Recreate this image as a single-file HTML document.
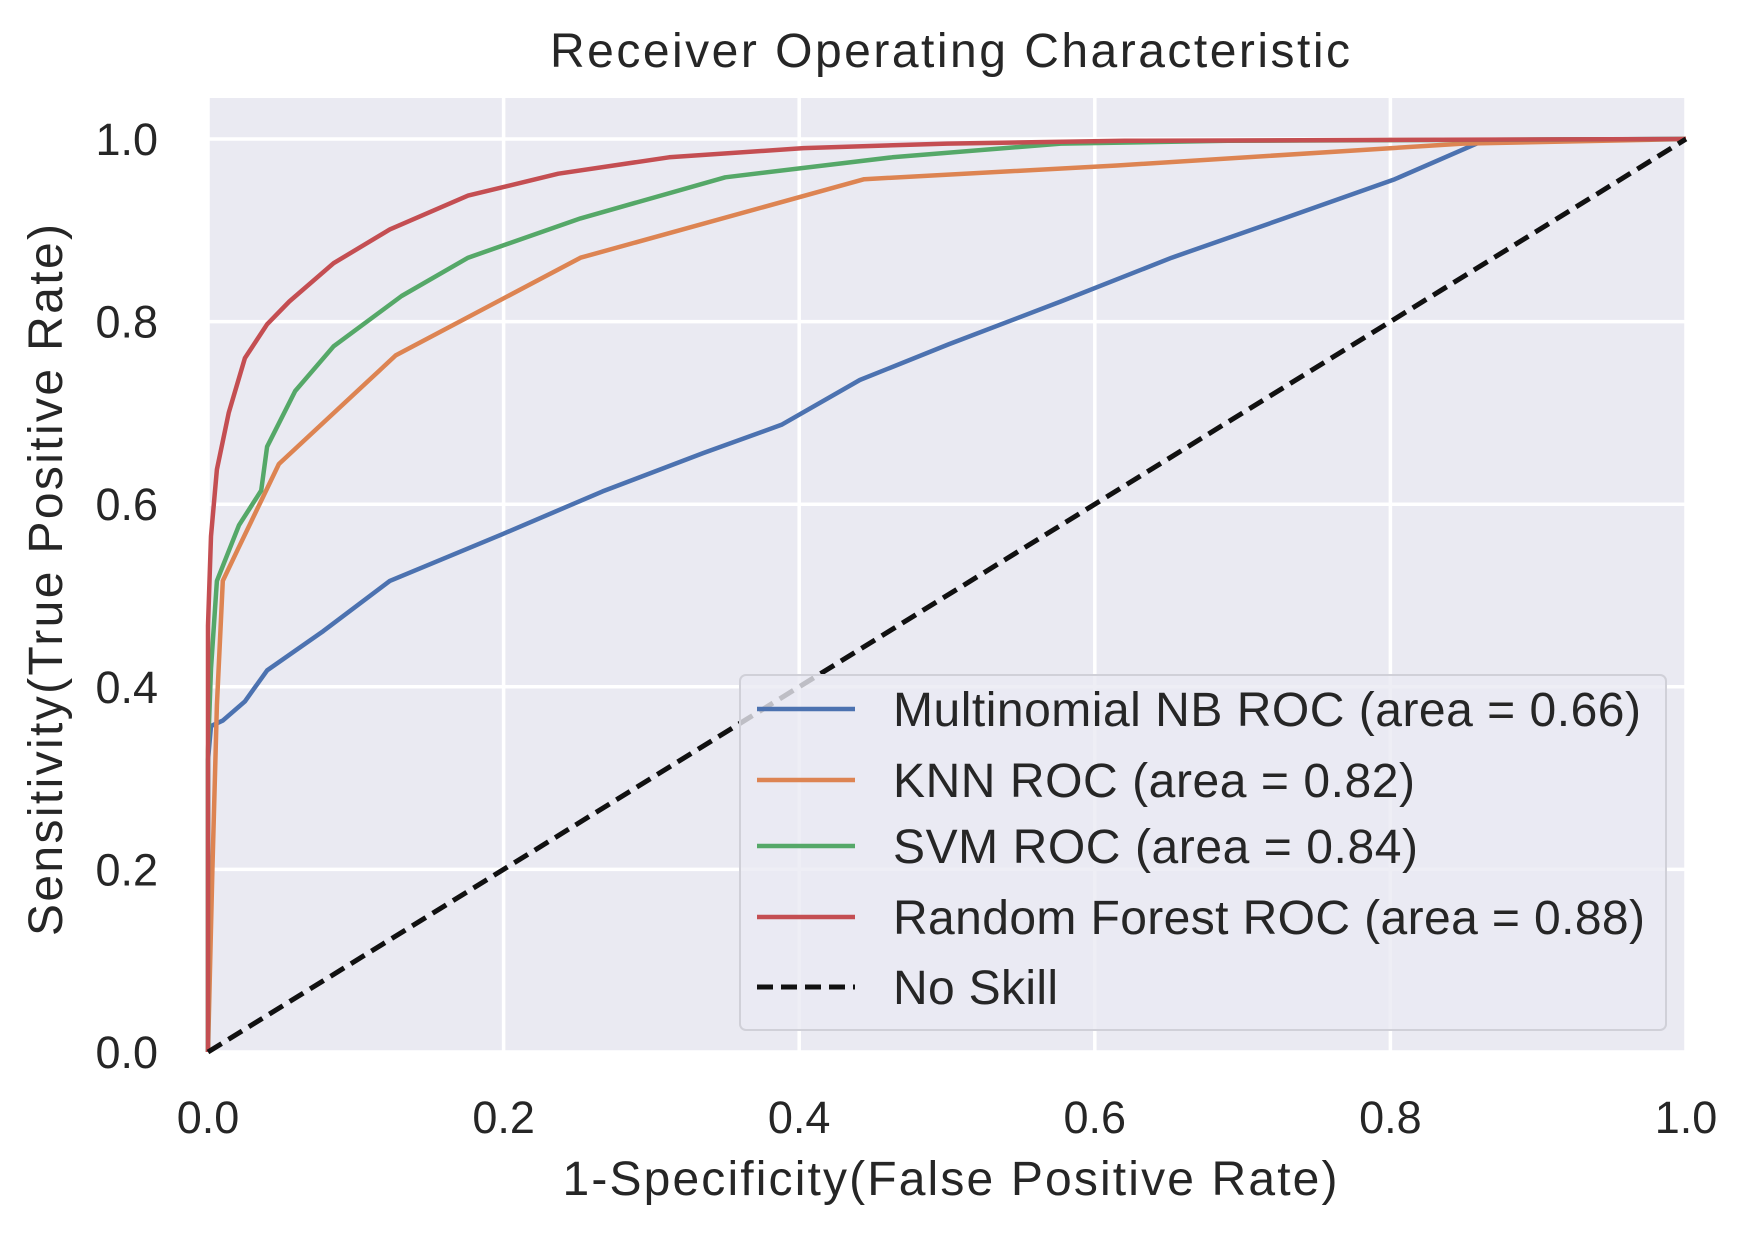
<!DOCTYPE html>
<html><head><meta charset="utf-8"><style>
html,body{margin:0;padding:0;background:#fff;}
svg{display:block;font-family:"Liberation Sans",Arial,sans-serif;}
</style></head><body>
<svg id="chart" width="1750" height="1236" viewBox="0 0 1750 1236" xmlns="http://www.w3.org/2000/svg">
<rect x="208" y="98" width="1479" height="954" fill="#eaeaf2"/>
<g id="grid"></g>
<g id="series"></g>
<g id="ticks"></g>
<text x="950" y="67" font-size="48" fill="#262626" text-anchor="middle" textLength="800">Receiver Operating Characteristic</text>
<text x="950" y="1195" font-size="48" fill="#262626" text-anchor="middle" textLength="775">1-Specificity(False Positive Rate)</text>
<text transform="translate(62,580) rotate(-90)" font-size="48" fill="#262626" text-anchor="middle" textLength="712">Sensitivity(True Positive Rate)</text>
<g id="legend">
<rect x="740" y="675" width="926" height="355" rx="6" fill="#eaeaf2" fill-opacity="0.8" stroke="#d0d0d8" stroke-width="2"/>
</g>
</svg>
<script>
const xTicks = [0, 0.2, 0.4, 0.6, 0.8, 1.0];
const yTicks = [0, 0.2, 0.4, 0.6, 0.8, 1.0];
const tickLabels = ["0.0","0.2","0.4","0.6","0.8","1.0"];
const seriesNames = ["Multinomial NB ROC (area = 0.66)","KNN ROC (area = 0.82)","SVM ROC (area = 0.84)","Random Forest ROC (area = 0.88)"];
const seriesColors = ["#4c72b0","#dd8452","#55a868","#c44e52"];
const nbX = [0,0,0.002,0.01,0.025,0.04,0.078,0.123,0.199,0.267,0.335,0.388,0.441,0.501,0.577,0.652,0.728,0.803,0.864,1];
const nbY = [0,0.32,0.357,0.363,0.384,0.418,0.461,0.516,0.567,0.614,0.656,0.687,0.736,0.775,0.822,0.870,0.913,0.956,0.999,1];
const knnX = [0,0.003,0.006,0.01,0.02,0.048,0.127,0.252,0.444,0.615,0.849,1];
const knnY = [0,0.2,0.38,0.516,0.55,0.644,0.763,0.870,0.956,0.971,0.995,1];
const svmX = [0,0,0.002,0.006,0.021,0.036,0.04,0.059,0.085,0.131,0.176,0.252,0.35,0.463,0.577,0.69,1];
const svmY = [0,0.33,0.42,0.516,0.577,0.615,0.663,0.724,0.773,0.828,0.870,0.913,0.958,0.980,0.995,0.998,1];
const rfX = [0,0,0.002,0.006,0.014,0.025,0.04,0.055,0.085,0.123,0.176,0.237,0.312,0.403,0.5,0.62,1];
const rfY = [0,0.467,0.565,0.638,0.70,0.76,0.797,0.822,0.864,0.901,0.938,0.962,0.980,0.990,0.995,0.998,1];
const skillX = [0,1];
const skillY = [0,1];

const X0=208,X1=1686,Y0=1052,Y1=139;
const sx=v=>X0+(X1-X0)*v;
const sy=v=>Y0-(Y0-Y1)*v;
const NS="http://www.w3.org/2000/svg";
function mk(tag,attrs,parent){const e=document.createElementNS(NS,tag);for(const k in attrs)e.setAttribute(k,attrs[k]);parent.appendChild(e);return e;}
const grid=document.getElementById('grid'),ticks=document.getElementById('ticks'),ser=document.getElementById('series'),leg=document.getElementById('legend');
xTicks.forEach((v,i)=>{
  const l=mk('line',{x1:sx(v),x2:sx(v),y1:98,y2:1052,stroke:'#fff','stroke-width':3.5},grid);
  
  
  const t=mk('text',{x:sx(v),y:1133,'font-size':45,fill:'#262626','text-anchor':'middle'},ticks);
  t.textContent=tickLabels[i];
  
  
});
yTicks.forEach((v,i)=>{
  const l=mk('line',{x1:208,x2:1687,y1:sy(v),y2:sy(v),stroke:'#fff','stroke-width':3.5},grid);
  
  
  const t=mk('text',{x:158,y:sy(v)+16,'font-size':45,fill:'#262626','text-anchor':'end'},ticks);
  t.textContent=tickLabels[i];
  
  
});
const allX=[nbX,knnX,svmX,rfX],allY=[nbY,knnY,svmY,rfY],keys=['nb','knn','svm','rf'];
allX.forEach((xs,s)=>{
  const d=xs.map((x,i)=>(i?'L':'M')+sx(x).toFixed(1)+','+sy(allY[s][i]).toFixed(1)).join('');
  const p=mk('path',{d:d,fill:'none',stroke:seriesColors[s],'stroke-width':4.5,'stroke-linejoin':'round'},ser);
  
  
});
const dl=mk('path',{d:'M'+sx(skillX[0])+','+sy(skillY[0])+'L'+sx(skillX[1])+','+sy(skillY[1]),stroke:'#111','stroke-width':5,'stroke-dasharray':'16,8',fill:'none'},ser);


const ly=[709,780,846,917,987];
const lw=[748,522,525,752,165];
seriesNames.concat(['No Skill']).forEach((n,i)=>{
  const g=mk('g',{},leg);
  
  
  mk('line',{x1:757,x2:855,y1:ly[i],y2:ly[i],stroke:i<4?seriesColors[i]:'#111','stroke-width':i<4?4.5:5,'stroke-dasharray':i<4?'none':'16,8'},g);
  const t=mk('text',{x:893,y:ly[i]+17,'font-size':48,fill:'#262626',textLength:lw[i]},g);
  t.textContent=n;
});
</script>
</body></html>
